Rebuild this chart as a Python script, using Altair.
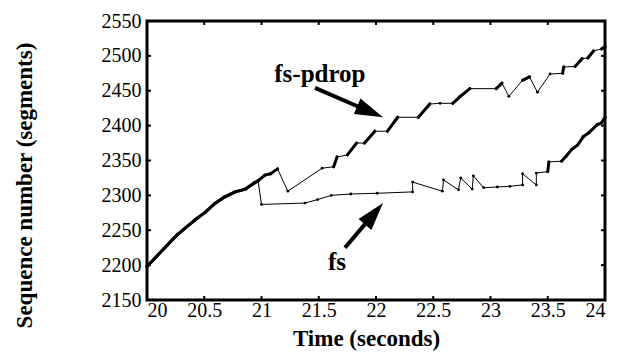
import altair as alt
import pandas as pd

# ---- data ----
t_common = [20.0, 20.26, 20.42, 20.51, 20.59, 20.68, 20.77, 20.86, 20.94, 20.97]
s_common = [2198, 2243, 2265, 2276, 2288, 2298, 2305, 2309, 2318, 2321]

t_fs = [21.0, 21.38, 21.49, 21.61, 21.78, 22.01, 22.32, 22.32, 22.58, 22.59,
        22.72, 22.74, 22.84, 22.85, 22.94, 23.06, 23.17, 23.28, 23.28, 23.40,
        23.40, 23.50, 23.51, 23.62, 23.66, 23.71, 23.76, 23.81, 23.86, 23.93,
        23.97, 24.0]
s_fs = [2287, 2289, 2294, 2300, 2302, 2303, 2305, 2319, 2306, 2322,
        2308, 2325, 2309, 2328, 2311, 2312, 2313, 2315, 2331, 2315,
        2332, 2334, 2348, 2349, 2356, 2366, 2372, 2384, 2390, 2401,
        2404, 2412]
# 1 = packet burst (dense run of segments) ending at this point
burst_fs = [0, 0, 0, 0, 0, 0, 0, 0, 0, 0,
            0, 0, 0, 0, 0, 0, 0, 0, 0, 0,
            0, 0, 1, 0, 1, 1, 1, 1, 1, 1,
            1, 1]

t_pd = [21.03, 21.08, 21.14, 21.23, 21.53, 21.63, 21.66, 21.75, 21.83, 21.90,
        21.99, 22.10, 22.19, 22.37, 22.47, 22.56, 22.67, 22.73, 22.82, 23.05,
        23.10, 23.16, 23.28, 23.34, 23.41, 23.52, 23.63, 23.64, 23.74, 23.80,
        23.85, 23.90, 23.97, 24.0]
s_pd = [2329, 2331, 2338, 2306, 2339, 2341, 2355, 2358, 2375, 2375,
        2392, 2392, 2412, 2412, 2431, 2432, 2432, 2441, 2453, 2453,
        2461, 2442, 2465, 2470, 2448, 2474, 2475, 2484, 2485, 2496,
        2497, 2507, 2510, 2513]
burst_pd = [1, 1, 1, 0, 0, 0, 1, 0, 1, 0,
            1, 0, 1, 0, 1, 0, 0, 1, 1, 0,
            1, 0, 0, 1, 0, 0, 0, 1, 0, 1,
            0, 1, 0, 1]

x_ticks = [20, 20.5, 21, 21.5, 22, 22.5, 23, 23.5, 24]
y_ticks = [2150, 2200, 2250, 2300, 2350, 2400, 2450, 2500, 2550]

labels = ["fs-pdrop", "fs"]
label_t = [21.51, 21.66]
label_s = [2462, 2193]

arrow_tail_t = [21.467, 21.729]
arrow_tail_s = [2454, 2225]
arrow_tip_t = [22.061, 22.061]
arrow_tip_s = [2412, 2289]

FONT = "Liberation Serif"
W, H = 458, 279

# ---- build tables ----
rows, segs = [], []
for name, tt, ss, bb in [("fs", t_fs, s_fs, burst_fs), ("fs-pdrop", t_pd, s_pd, burst_pd)]:
    T = t_common + tt
    S = s_common + ss
    B = [0] + [1] * (len(t_common) - 1) + bb
    for i, (a, b) in enumerate(zip(T, S)):
        rows.append({"series": name, "idx": i, "t": a, "s": b})
        if i > 0 and B[i]:
            segs.append({"series": name, "t": T[i - 1], "s": S[i - 1], "t2": a, "s2": b})
df = pd.DataFrame(rows)
seg = pd.DataFrame(segs)

xs = alt.Scale(domain=[20, 24], nice=False, zero=False)
ys = alt.Scale(domain=[2150, 2550], nice=False, zero=False)

x_axis = alt.Axis(values=x_ticks, labelExpr="'' + datum.value", title="Time (seconds)",
                  grid=False, domain=False, ticks=False, tickSize=0, labelOverlap=False,
                  labelFont=FONT, labelFontSize=20, labelColor="black", labelPadding=0,
                  titleFont=FONT, titleFontSize=23, titleFontWeight="bold", titleColor="black",
                  titleX=219, titleY=45, titleAlign="center", titleBaseline="alphabetic")
y_axis = alt.Axis(values=y_ticks, format="d", title="Sequence number (segments)",
                  grid=False, domain=False, ticks=False, tickSize=0, labelOverlap=False,
                  labelFont=FONT, labelFontSize=20, labelColor="black", labelPadding=6,
                  titleFont=FONT, titleFontSize=23, titleFontWeight="bold", titleColor="black",
                  titleAngle=270, titleX=-111, titleY=164, titleAlign="center",
                  titleBaseline="bottom")


def X(f):
    return alt.X(f, scale=xs, axis=x_axis)


def Y(f):
    return alt.Y(f, scale=ys, axis=y_axis)


base = alt.Chart(df)
lines = base.mark_line(color="black", strokeWidth=1, clip=True).encode(
    x=X("t:Q"), y=Y("s:Q"), detail="series:N", order="idx:Q",
)
dots = base.mark_point(filled=True, color="black", size=8, opacity=1).encode(
    x=X("t:Q"), y=Y("s:Q")
)
thick = alt.Chart(seg).mark_rule(color="black", strokeWidth=3, strokeCap="round").encode(
    x=X("t:Q"), y=Y("s:Q"), x2="t2:Q", y2="s2:Q"
)

xt = pd.DataFrame({"v": x_ticks})
yt = pd.DataFrame({"v": y_ticks})
tick_b = alt.Chart(xt).mark_rule(color="black", strokeWidth=2).encode(
    x=X("v:Q"), y=alt.value(H), y2=alt.value(H - 4))
tick_t = alt.Chart(xt).mark_rule(color="black", strokeWidth=2).encode(
    x=X("v:Q"), y=alt.value(0), y2=alt.value(4))
tick_l = alt.Chart(yt).mark_rule(color="black", strokeWidth=2).encode(
    y=Y("v:Q"), x=alt.value(0), x2=alt.value(4))
tick_r = alt.Chart(yt).mark_rule(color="black", strokeWidth=2).encode(
    y=Y("v:Q"), x=alt.value(W), x2=alt.value(W - 4))

# arrows
arr = pd.DataFrame({"t": arrow_tail_t, "s": arrow_tail_s,
                    "t2": arrow_tip_t, "s2": arrow_tip_s})
arr["te"] = arr["t"] + 0.65 * (arr["t2"] - arr["t"])
arr["se"] = arr["s"] + 0.65 * (arr["s2"] - arr["s"])
shafts = alt.Chart(arr).mark_rule(color="black", strokeWidth=4).encode(
    x=X("t:Q"), y=Y("s:Q"), x2="te:Q", y2="se:Q")
HEAD = "M0,0 L-2,-0.6 L-2,0.6 Z"
head1 = alt.Chart(arr.iloc[[0]]).mark_point(
    shape=HEAD, size=784, filled=True, color="black", opacity=1, angle=23).encode(
    x=X("t2:Q"), y=Y("s2:Q"))
head2 = alt.Chart(arr.iloc[[1]]).mark_point(
    shape=HEAD, size=784, filled=True, color="black", opacity=1, angle=310).encode(
    x=X("t2:Q"), y=Y("s2:Q"))

lab = pd.DataFrame({"label": labels, "t": label_t, "s": label_s})
texts = alt.Chart(lab).mark_text(font=FONT, fontSize=25, fontWeight="bold", color="black",
                                 align="center", baseline="alphabetic").encode(
    x=X("t:Q"), y=Y("s:Q"), text="label:N")

chart = alt.layer(lines, thick, dots, tick_b, tick_t, tick_l, tick_r,
                  shafts, head1, head2, texts).properties(
    width=W, height=H,
    autosize=alt.AutoSizeParams(type="none"),
    padding={"left": 139, "top": 13, "right": 10, "bottom": 52},
    background="white",
).configure_view(stroke="black", strokeWidth=3)

chart.save("out.html", embed_options={"renderer": "svg", "actions": False})
